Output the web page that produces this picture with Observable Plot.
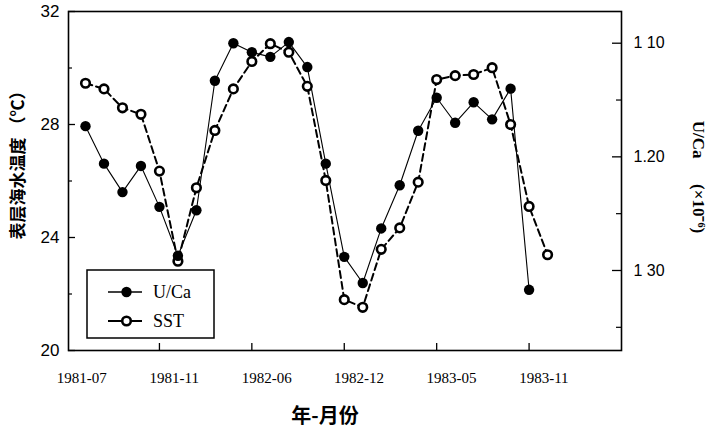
<!DOCTYPE html>
<html>
<head>
<meta charset="utf-8">
<script src="https://cdn.jsdelivr.net/npm/d3@7"></script>
<script src="https://cdn.jsdelivr.net/npm/@observablehq/plot@0.6"></script>
<style>
  body { margin: 0; background: #fff; }
  #chart { position: relative; width: 714px; height: 434px; }
</style>
</head>
<body>
<div id="chart"></div>
<script>
// ---- data ----
const sstValues = [29.46, 29.26, 28.59, 28.36, 26.35, 23.16, 25.76, 27.79, 29.26, 30.23,
                   30.86, 30.56, 29.35, 26.02, 21.80, 21.53, 23.58, 24.34, 25.96, 29.59,
                   29.73, 29.77, 30.01, 28.00, 25.10, 23.39];
const ucaValues = [1.173, 1.206, 1.231, 1.208, 1.244, 1.287, 1.247, 1.133, 1.100, 1.108,
                   1.112, 1.099, 1.121, 1.206, 1.288, 1.311, 1.263, 1.225, 1.177, 1.148,
                   1.170, 1.152, 1.167, 1.140, 1.317];
const xTickLabels = ["1981-07", "1981-11", "1982-06", "1982-12", "1983-05", "1983-11"];
const leftMajorTicks = [20, 24, 28, 32];
const leftMinorTicks = [22, 26, 30];
const rightMajorTicks = [1.10, 1.20, 1.30];
const rightTickLabels = ["1 10", "1.20", "1 30"];
const rightMinorTicks = [1.15, 1.25, 1.35];
const bottomTickSamples = [4, 9, 14, 19, 24];

// ---- layout ----
const W = 714, H = 434;
const mL = 68, mR = 93, mT = 11, mB = 84;
const plotW = W - mL - mR, plotH = H - mT - mB;
const xDomain = [-0.92, 29.0];
const yDomain = [20, 32];
const uDomain = [1.0721, 1.3704]; // right axis: top -> bottom (reversed)
const toLeft = u => yDomain[1] - (u - uDomain[0]) / (uDomain[1] - uDomain[0]) * (yDomain[1] - yDomain[0]);

const sstRows = sstValues.map((v, i) => ({i, v}));
const ucaRows = ucaValues.map((u, i) => ({i, u, v: toLeft(u)}));

const xLabelPos = xTickLabels.map((_, k) => k * 5 - 0.2);
const xLabelMap = new Map(xLabelPos.map((p, k) => [p, xTickLabels[k]]));
const rightPos = rightMajorTicks.map(toLeft);
const rightLabelMap = new Map(rightPos.map((p, k) => [p, rightTickLabels[k]]));

const SANS = "Liberation Sans, Arial, Helvetica, sans-serif";
const SERIF = "Liberation Serif, Times New Roman, serif";
const CJK = "Noto Sans CJK SC, sans-serif";

const svg = Plot.plot({
  width: W, height: H,
  marginLeft: mL, marginRight: mR, marginTop: mT, marginBottom: mB,
  x: {domain: xDomain},
  y: {domain: yDomain},
  style: {background: "#fff", color: "#000", overflow: "visible"},
  marks: [
    Plot.frame({stroke: "#000", strokeWidth: 1.6}),
    // tick marks (inward)
    Plot.ruleY(leftMajorTicks, {insetRight: plotW - 7, stroke: "#000", strokeWidth: 1.3}),
    Plot.ruleY(leftMinorTicks, {insetRight: plotW - 4, stroke: "#000", strokeWidth: 1.2}),
    Plot.ruleY(rightMajorTicks.map(toLeft), {insetLeft: plotW - 9, stroke: "#000", strokeWidth: 1.3}),
    Plot.ruleY(rightMinorTicks.map(toLeft), {insetLeft: plotW - 5, stroke: "#000", strokeWidth: 1.2}),
    Plot.ruleX(bottomTickSamples, {insetTop: plotH - 7, stroke: "#000", strokeWidth: 1.3}),
    // tick labels
    Plot.axisY({anchor: "left", ticks: leftMajorTicks, tickSize: 0, tickPadding: 9,
                fontSize: 17, fontFamily: SANS, label: null}),
    Plot.axisY({anchor: "right", ticks: rightPos, tickFormat: d => rightLabelMap.get(d),
                tickSize: 0, tickPadding: 12, fontSize: 16, fontFamily: SANS, label: null}),
    Plot.axisX({ticks: xLabelPos, tickFormat: d => xLabelMap.get(d), tickSize: 0, tickPadding: 22,
                fontSize: 15, fontFamily: SERIF, label: null}),
    // axis titles
    Plot.text(["表层海水温度 （℃）"], {frameAnchor: "left", textAnchor: "middle", dx: -50, dy: -20, rotate: -90,
                fontSize: 17, fontWeight: "bold", fontFamily: CJK, fill: "#000"}),
    Plot.text(["U/Ca\u2003\u2002(×10⁻⁶)"], {frameAnchor: "right", textAnchor: "middle", dx: 77, dy: -4, rotate: 90,
                fontSize: 17, fontWeight: "bold", fontFamily: SERIF, fill: "#000"}),
    Plot.text(["年-月份"], {frameAnchor: "bottom", textAnchor: "middle", dx: -20, dy: 72,
                fontSize: 20, fontWeight: "bold", fontFamily: CJK, fill: "#000"}),
    // data
    Plot.line(ucaRows, {x: "i", y: "v", stroke: "#000", strokeWidth: 1.1}),
    Plot.line(sstRows, {x: "i", y: "v", stroke: "#000", strokeWidth: 2, strokeDasharray: "7,4"}),
    Plot.dot(sstRows, {x: "i", y: "v", r: 4.3, fill: "#fff", stroke: "#000", strokeWidth: 2.6}),
    Plot.dot(ucaRows, {x: "i", y: "v", r: 5.2, fill: "#000", stroke: "none"})
  ]
});
document.getElementById("chart").appendChild(svg);

// ---- legend (inside plot, lower left) ----
const lg = d3.select(svg).append("g").attr("class", "legend").attr("text-anchor", "start");
lg.append("rect").attr("x", 87).attr("y", 270).attr("width", 127).attr("height", 68)
  .attr("fill", "#fff").attr("stroke", "#000").attr("stroke-width", 1.5);
const entries = [
  {name: "U/Ca", y: 292, filled: true},
  {name: "SST", y: 321, filled: false}
];
entries.forEach(e => {
  lg.append("line").attr("x1", 108).attr("x2", 142).attr("y1", e.y).attr("y2", e.y)
    .attr("stroke", "#000").attr("stroke-width", e.filled ? 1.5 : 2);
  if (e.filled) {
    lg.append("circle").attr("cx", 126.5).attr("cy", e.y).attr("r", 5.2).attr("fill", "#000");
  } else {
    lg.append("circle").attr("cx", 126.5).attr("cy", e.y).attr("r", 4.3)
      .attr("fill", "#fff").attr("stroke", "#000").attr("stroke-width", 2.6);
  }
  lg.append("text").attr("x", 153).attr("y", e.y).attr("dy", "0.35em")
    .attr("text-anchor", "start")
    .attr("font-family", SERIF).attr("font-size", 18).attr("fill", "#000").text(e.name);
});
</script>
</body>
</html>
